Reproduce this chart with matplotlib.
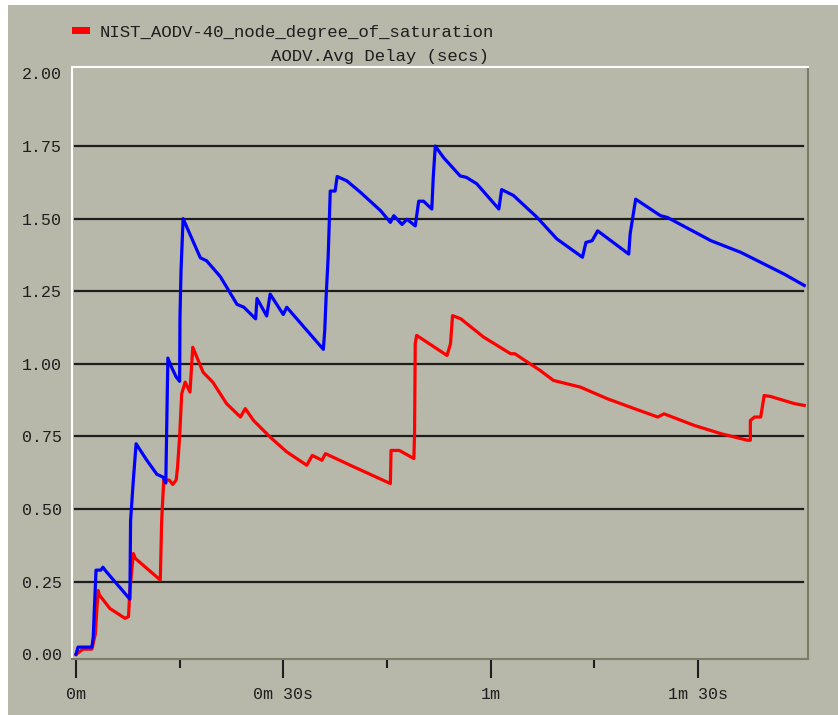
import numpy as np
import matplotlib
matplotlib.use("Agg")
import matplotlib.pyplot as plt
from matplotlib.patches import Rectangle

# time in seconds, delay in seconds
blue_t = [0, 0.3, 2.3, 2.5, 2.65, 2.9, 3.6, 3.9, 4.2, 7.8, 7.9, 8.3, 8.7, 10.2,
          11.7, 12.6, 13.0, 13.2, 13.3, 13.8, 14.5, 15.0, 15.05, 15.2, 15.5,
          18.0, 18.9, 20.9, 23.3, 24.3, 26.0, 26.2, 27.6, 28.1, 30.0, 30.5,
          35.8, 36.0, 36.2, 36.5, 36.8, 37.5, 37.8, 39.2, 41.2, 44.1, 45.5,
          46.0, 47.2, 47.9, 49.1, 49.6, 50.3, 51.5, 51.7, 52.0, 52.5, 53.2,
          55.6, 56.5, 58.0, 61.2, 61.6, 63.3, 66.7, 69.6, 73.3, 73.8, 74.7,
          75.5, 80.0, 80.2, 81.0, 84.6, 85.6, 91.9, 96.2, 102.5, 105.4]
blue_v = [0.0, 0.025, 0.025, 0.06, 0.15, 0.29, 0.29, 0.30, 0.29, 0.19, 0.46,
          0.60, 0.725, 0.67, 0.62, 0.61, 0.59, 0.885, 1.02, 0.99, 0.955, 0.94,
          1.16, 1.32, 1.50, 1.365, 1.355, 1.30, 1.205, 1.195, 1.155, 1.225,
          1.165, 1.24, 1.17, 1.195, 1.05, 1.115, 1.23, 1.37, 1.595, 1.595,
          1.645, 1.63, 1.59, 1.527, 1.487, 1.51, 1.48, 1.498, 1.475, 1.56,
          1.56, 1.533, 1.64, 1.75, 1.733, 1.71, 1.647, 1.642, 1.62, 1.533,
          1.60, 1.58, 1.505, 1.43, 1.367, 1.418, 1.424, 1.458, 1.378, 1.447,
          1.567, 1.51, 1.504, 1.424, 1.384, 1.309, 1.27]

red_t = [0, 1.0, 2.3, 2.8, 3.2, 3.4, 4.9, 7.1, 7.6, 7.8, 8.3, 8.6, 12.2, 12.4,
         12.7, 13.5, 14.0, 14.5, 14.7, 15.0, 15.3, 15.8, 16.5, 16.9, 17.5,
         18.4, 19.8, 21.8, 23.8, 24.5, 25.7, 28.1, 30.5, 33.4, 34.2, 35.6,
         36.1, 39.7, 45.5, 45.6, 46.8, 48.9, 49.0, 49.1, 49.3, 53.7, 54.2,
         54.5, 55.7, 59.0, 62.9, 63.5, 67.2, 69.1, 73.0, 76.9, 80.8, 84.2,
         85.1, 89.5, 93.3, 97.2, 97.6, 97.6, 98.2, 99.1, 99.6, 100.5, 104.0,
         105.4]
red_v = [0.0, 0.018, 0.018, 0.07, 0.22, 0.204, 0.158, 0.124, 0.13, 0.22,
         0.347, 0.33, 0.256, 0.46, 0.60, 0.60, 0.585, 0.60, 0.645, 0.75,
         0.897, 0.937, 0.903, 1.057, 1.023, 0.971, 0.937, 0.863, 0.817, 0.846,
         0.805, 0.748, 0.697, 0.651, 0.685, 0.668, 0.691, 0.651, 0.588, 0.702,
         0.702, 0.674, 0.76, 1.069, 1.098, 1.029, 1.069, 1.166, 1.155, 1.092,
         1.035, 1.035, 0.977, 0.943, 0.92, 0.88, 0.846, 0.817, 0.828, 0.788,
         0.76, 0.737, 0.737, 0.805, 0.817, 0.817, 0.891, 0.888, 0.863, 0.857]

y_ticks = [0, 0.25, 0.5, 0.75, 1.0, 1.25, 1.5, 1.75, 2.0]
x_major = [0, 30, 60, 90]
x_labels = ['0m', '0m 30s', '1m', '1m 30s']
x_minor = [15, 45, 75]

legend_label = 'NIST_AODV-40_node_degree_of_saturation'
title = 'AODV.Avg Delay (secs)'

W, H = 838, 715
bg = '#b7b7aa'
ink = '#1e1e1e'
mono = 'Liberation Mono'

fig = plt.figure(figsize=(W / 100, H / 100), dpi=100)
fig.patch.set_facecolor(bg)
# thin white margins at the top and left of the screenshot
fig.patches.append(Rectangle((0, 1 - 5 / H), 1, 5 / H, transform=fig.transFigure,
                             facecolor='white', edgecolor='none', zorder=-1))
fig.patches.append(Rectangle((0, 0), 8 / W, 1, transform=fig.transFigure,
                             facecolor='white', edgecolor='none', zorder=-1))

ax = fig.add_axes([71.5 / W, 1 - 659.3 / H, (807.7 - 71.5) / W, (659.3 - 66.7) / H])
ax.set_facecolor(bg)
ax.set_xlim(-0.65, 105.9)
ax.set_ylim(-0.017, 2.023)

for v in y_ticks[1:-1]:
    ax.axhline(v, xmin=0.005, xmax=0.993, color=ink, lw=1.6, zorder=1)

ax.plot(red_t, red_v, color='#ff0000', lw=2.3, zorder=2)
ax.plot(blue_t, blue_v, color='#0000ff', lw=2.3, zorder=3)

for side in ('left', 'top'):
    ax.spines[side].set_color('white')
    ax.spines[side].set_linewidth(1.5)
for side in ('right', 'bottom'):
    ax.spines[side].set_color('#7a7e66')
    ax.spines[side].set_linewidth(1.5)

ax.set_yticks(y_ticks)
ax.set_yticklabels(['%.2f' % v for v in y_ticks], family=mono, fontsize=12, color=ink)
ax.tick_params(axis='y', length=0, pad=7)

ax.set_xticks(x_major)
ax.set_xticklabels(x_labels, family=mono, fontsize=12, color=ink)
ax.set_xticks(x_minor, minor=True)
ax.tick_params(axis='x', which='major', direction='out', length=13.7, width=1.5,
               color=ink, pad=6)
ax.tick_params(axis='x', which='minor', direction='out', length=6.5, width=1.5,
               color=ink)

# legend and title, placed in figure pixels
fig.patches.append(Rectangle((72 / W, 1 - 34 / H), 18 / W, 7 / H, transform=fig.transFigure,
                             facecolor='#ff0000', edgecolor='none', zorder=5))
fig.text(100 / W, 1 - 33 / H, legend_label, family=mono, fontsize=12.5, color=ink,
         ha='left', va='center')
fig.text(489 / W, 1 - 57 / H, title, family=mono, fontsize=12.5, color=ink,
         ha='right', va='center')

fig.savefig('out.png', dpi=100, facecolor=fig.get_facecolor())
